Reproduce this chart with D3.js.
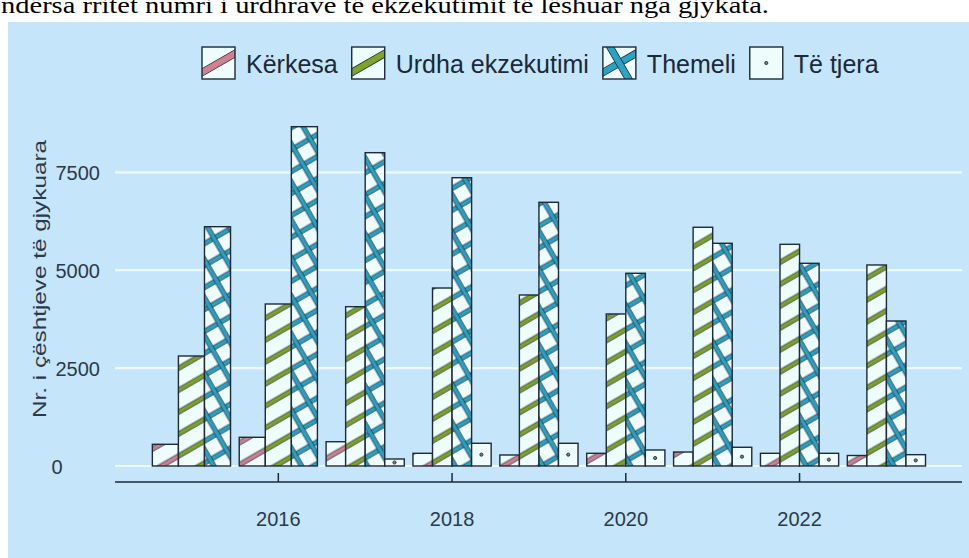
<!DOCTYPE html>
<html>
<head>
<meta charset="utf-8">
<script src="https://cdn.jsdelivr.net/npm/d3@7"></script>
<style>
  body { margin: 0; background: #fff; }
  svg { display: block; font-family: "Liberation Sans", Arial, sans-serif; }
</style>
</head>
<body>
<svg width="969" height="558"></svg>
<script>
// data
var years = [2015, 2016, 2017, 2018, 2019, 2020, 2021, 2022, 2023];
var series = ["Kërkesa", "Urdha ekzekutimi", "Themeli", "Të tjera"];
var kerkesa = [554, 733, 620, 324, 281, 324, 357, 324, 268];
var urdha = [2809, 4137, 4068, 4545, 4367, 3882, 6096, 5661, 5133];
var themeli = [6111, 8665, 8001, 7362, 6734, 4921, 5687, 5176, 3703];
var teTjera = [null, null, 179, 580, 580, 409, 478, 324, 289];
var yTicks = [0, 2500, 5000, 7500];
var xTicks = [2016, 2018, 2020, 2022];
var yTitle = "Nr. i çështjeve të gjykuara";
var topText = "ndërsa rritet numri i urdhrave të ekzekutimit të lëshuar nga gjykata.";

var values = [kerkesa, urdha, themeli, teTjera];
var colors = ["#cf8091", "#7da32a", "#2ba2c3", null];
var bg = "#eefcfc", ink = "#1d2a38";

var svg = d3.select("svg");

// text line of the document above the chart (its top is cut by the page edge)
svg.append("text")
    .attr("x", 1).attr("y", 13)
    .attr("textLength", 768).attr("lengthAdjust", "spacingAndGlyphs")
    .style("font-family", "'Liberation Serif', 'Times New Roman', serif")
    .style("font-size", "24px")
    .attr("fill", "#000")
    .text(topText);

// blue background
svg.append("rect")
    .attr("x", 8).attr("y", 22).attr("width", 961).attr("height", 536)
    .attr("fill", "#c5e5fa");

// scales
var x = d3.scaleLinear().domain([2014.12, 2023.87]).range([115, 962]);
var y = d3.scaleLinear().domain([0, 7500]).range([466, 172.3]);
var unit = x(1) - x(0);

// patterns
var defs = svg.append("defs");
function band(p, horiz, color) {
    if (horiz) {
        p.append("rect").attr("x", 0).attr("y", 7).attr("width", 19).attr("height", 4.3).attr("fill", color);
        p.append("line").attr("x1", 0).attr("x2", 19).attr("y1", 7).attr("y2", 7).attr("stroke", ink).attr("stroke-width", 0.7);
        p.append("line").attr("x1", 0).attr("x2", 19).attr("y1", 11.3).attr("y2", 11.3).attr("stroke", ink).attr("stroke-width", 0.7);
    } else {
        p.append("rect").attr("x", 7).attr("y", 0).attr("width", 4.3).attr("height", 19).attr("fill", color);
        p.append("line").attr("y1", 0).attr("y2", 19).attr("x1", 7).attr("x2", 7).attr("stroke", ink).attr("stroke-width", 0.7);
        p.append("line").attr("y1", 0).attr("y2", 19).attr("x1", 11.3).attr("x2", 11.3).attr("stroke", ink).attr("stroke-width", 0.7);
    }
}
function stripes(id, color, cross) {
    var p = defs.append("pattern")
        .attr("id", id)
        .attr("patternUnits", "userSpaceOnUse")
        .attr("width", 19).attr("height", 19)
        .attr("patternTransform", "rotate(-30)");
    p.append("rect").attr("width", 19).attr("height", 19).attr("fill", bg);
    band(p, true, color);
    if (cross) band(p, false, color);
}
stripes("p0", colors[0], false);
stripes("p1", colors[1], false);
stripes("p2", colors[2], true);

// gridlines
svg.append("g")
    .selectAll("line")
    .data(yTicks)
    .join("line")
    .attr("x1", 115).attr("x2", 962)
    .attr("y1", d => y(d)).attr("y2", d => y(d))
    .attr("stroke", "#eef9fe")
    .attr("stroke-width", 2.2);

// bars, dodged inside each year
var bars = [];
years.forEach(function(yr, i) {
    var present = [];
    values.forEach(function(v, s) { if (v[i] != null) present.push(s); });
    var bw = 0.9 * unit / present.length;
    present.forEach(function(s, j) {
        bars.push({year: yr, s: s, value: values[s][i], x0: x(yr) - 0.45 * unit + j * bw, w: bw});
    });
});

svg.append("g")
    .selectAll("rect")
    .data(bars)
    .join("rect")
    .attr("x", d => d.x0)
    .attr("y", d => y(d.value))
    .attr("width", d => d.w)
    .attr("height", d => y(0) - y(d.value))
    .attr("fill", d => d.s < 3 ? "url(#p" + d.s + ")" : bg)
    .attr("stroke", ink)
    .attr("stroke-width", 1.4);

// dots for "Të tjera"
svg.append("g")
    .selectAll("circle")
    .data(bars.filter(d => d.s === 3))
    .join("circle")
    .attr("cx", d => d.x0 + d.w / 2)
    .attr("cy", d => (y(d.value) + y(0)) / 2)
    .attr("r", 1.6)
    .attr("fill", "#6f8086")
    .attr("stroke", "#222")
    .attr("stroke-width", 0.8);

// x axis
svg.append("line")
    .attr("x1", 115).attr("x2", 962).attr("y1", 482).attr("y2", 482)
    .attr("stroke", ink).attr("stroke-width", 1.5);
svg.append("g")
    .selectAll("line")
    .data(xTicks)
    .join("line")
    .attr("x1", d => x(d)).attr("x2", d => x(d))
    .attr("y1", 473).attr("y2", 482)
    .attr("stroke", ink).attr("stroke-width", 1.5);
svg.append("g")
    .selectAll("text")
    .data(xTicks)
    .join("text")
    .attr("x", d => x(d)).attr("y", 526)
    .attr("text-anchor", "middle")
    .attr("fill", "#2b3949")
    .style("font-size", "20px")
    .text(d => d);

// y tick labels
svg.append("g")
    .selectAll("text")
    .data(yTicks)
    .join("text")
    .attr("x", d => d === 0 ? 57 : 100)
    .attr("y", d => y(d) + 7.5)
    .attr("text-anchor", d => d === 0 ? "middle" : "end")
    .attr("fill", "#2b3949")
    .style("font-size", "20px")
    .text(d => d);

// y title
svg.append("text")
    .attr("transform", "translate(46,279) rotate(-90)")
    .attr("text-anchor", "middle")
    .attr("textLength", 278).attr("lengthAdjust", "spacingAndGlyphs")
    .attr("fill", "#2b3949")
    .style("font-size", "18px")
    .text(yTitle);

// legend
var legend = svg.append("g");
var lx = 202, ky = 47, ks = 33;
series.forEach(function(name, s) {
    var g = legend.append("g").attr("transform", "translate(" + lx + "," + ky + ")");
    var cid = "kc" + s;
    defs.append("clipPath").attr("id", cid)
        .append("rect").attr("width", ks).attr("height", ks - 1);
    g.append("rect").attr("width", ks).attr("height", ks - 1).attr("fill", bg);
    var kg = g.append("g").attr("clip-path", "url(#" + cid + ")");
    var angles = s === 2 ? [-30, 60] : (s < 3 ? [-30] : []);
    angles.forEach(function(a) {
        var r = a * Math.PI / 180, cx = ks / 2, cy = (ks - 1) / 2, L = 30;
        kg.append("line")
            .attr("x1", cx - L * Math.cos(r)).attr("y1", cy - L * Math.sin(r))
            .attr("x2", cx + L * Math.cos(r)).attr("y2", cy + L * Math.sin(r))
            .attr("stroke", ink).attr("stroke-width", 7.5);
        kg.append("line")
            .attr("x1", cx - L * Math.cos(r)).attr("y1", cy - L * Math.sin(r))
            .attr("x2", cx + L * Math.cos(r)).attr("y2", cy + L * Math.sin(r))
            .attr("stroke", colors[s]).attr("stroke-width", 6);
    });
    if (s === 3) {
        kg.append("circle").attr("cx", ks / 2).attr("cy", (ks - 1) / 2).attr("r", 1.6)
            .attr("fill", "#6f8086").attr("stroke", "#222").attr("stroke-width", 0.8);
    }
    g.append("rect").attr("width", ks).attr("height", ks - 1)
        .attr("fill", "none").attr("stroke", ink).attr("stroke-width", 1.4);
    var t = legend.append("text")
        .attr("x", lx + ks + 11).attr("y", 73)
        .attr("fill", "#1b2836")
        .style("font-size", "25px")
        .text(name);
    lx += ks + 11 + t.node().getComputedTextLength() + 14;
});
</script>
</body>
</html>
